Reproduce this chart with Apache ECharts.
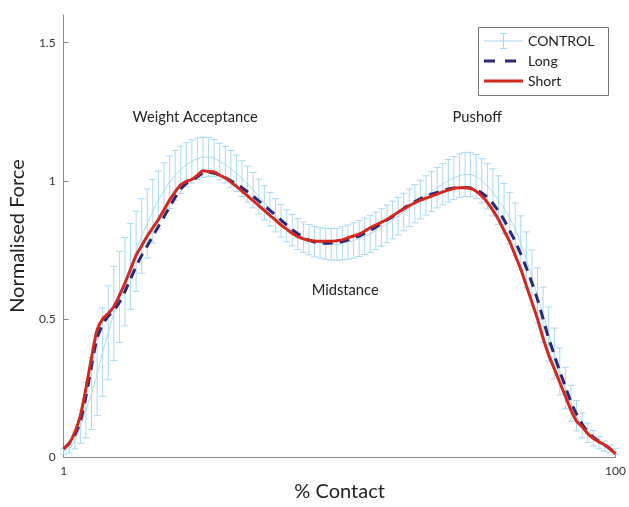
<!DOCTYPE html>
<html>
<head>
<meta charset="utf-8">
<script src="https://cdn.jsdelivr.net/npm/echarts@6/dist/echarts.min.js"></script>
<style>html,body{margin:0;padding:0;background:#fff}#c{width:629px;height:507px}</style>
</head>
<body>
<div id="c"></div>
<script>
// % contact index 1..100
const contact = [];
for (let k = 1; k <= 100; k++) contact.push(k);

const controlMean = [
 0.02,0.03,0.06,0.11,0.17,0.23,0.30,0.38,0.45,0.52,
 0.58,0.635,0.69,0.745,0.80,0.845,0.89,0.93,0.965,0.995,
 1.02,1.04,1.058,1.07,1.08,1.085,1.086,1.082,1.07,1.058,
 1.043,1.027,1.008,0.988,0.966,0.943,0.92,0.897,0.875,0.855,
 0.837,0.821,0.807,0.796,0.787,0.78,0.775,0.772,0.77,0.77,
 0.774,0.778,0.784,0.791,0.799,0.808,0.819,0.831,0.844,0.858,
 0.872,0.887,0.902,0.917,0.932,0.947,0.961,0.975,0.988,1.0,
 1.01,1.018,1.023,1.022,1.015,1.0,0.98,0.958,0.93,0.90,
 0.865,0.825,0.775,0.715,0.65,0.585,0.515,0.445,0.375,0.31,
 0.25,0.195,0.15,0.115,0.088,0.068,0.052,0.04,0.03,0.02];

const controlSD = [
 0.01,0.015,0.03,0.06,0.10,0.13,0.15,0.16,0.17,0.17,
 0.165,0.16,0.155,0.145,0.135,0.125,0.115,0.105,0.10,0.095,
 0.09,0.085,0.08,0.078,0.075,0.073,0.07,0.068,0.066,0.066,
 0.066,0.066,0.065,0.065,0.064,0.063,0.062,0.061,0.06,0.059,
 0.058,0.057,0.056,0.055,0.055,0.055,0.055,0.056,0.057,0.058,
 0.06,0.062,0.064,0.065,0.066,0.067,0.068,0.068,0.068,0.068,
 0.068,0.068,0.068,0.069,0.07,0.071,0.072,0.073,0.075,0.077,
 0.078,0.079,0.08,0.08,0.08,0.08,0.082,0.085,0.088,0.09,
 0.093,0.095,0.098,0.1,0.1,0.1,0.1,0.098,0.092,0.085,
 0.075,0.065,0.055,0.045,0.035,0.028,0.022,0.018,0.014,0.01];

const longForce = [
 0.03,0.05,0.08,0.13,0.22,0.33,0.43,0.48,0.51,0.53,
 0.56,0.60,0.645,0.69,0.73,0.765,0.80,0.835,0.87,0.905,
 0.94,0.97,0.99,1.0,1.015,1.028,1.03,1.028,1.02,1.012,
 1.0,0.988,0.975,0.96,0.944,0.927,0.91,0.893,0.876,0.858,
 0.84,0.823,0.808,0.795,0.785,0.778,0.775,0.774,0.775,0.777,
 0.78,0.786,0.793,0.80,0.81,0.82,0.832,0.845,0.858,0.87,
 0.885,0.90,0.913,0.925,0.935,0.944,0.952,0.958,0.964,0.97,
 0.974,0.976,0.976,0.974,0.968,0.956,0.94,0.918,0.89,0.858,
 0.82,0.78,0.735,0.685,0.63,0.57,0.50,0.43,0.37,0.31,
 0.255,0.2,0.155,0.12,0.092,0.072,0.058,0.045,0.03,0.015];

const shortForce = [
 0.03,0.05,0.09,0.15,0.25,0.36,0.46,0.50,0.52,0.545,
 0.585,0.63,0.68,0.73,0.765,0.80,0.83,0.86,0.895,0.93,
 0.96,0.985,0.998,1.005,1.02,1.036,1.034,1.032,1.02,1.01,
 0.995,0.98,0.963,0.945,0.928,0.91,0.893,0.875,0.858,0.84,
 0.825,0.81,0.798,0.79,0.785,0.782,0.781,0.781,0.781,0.783,
 0.786,0.794,0.80,0.807,0.818,0.83,0.84,0.85,0.86,0.873,
 0.886,0.898,0.91,0.92,0.93,0.937,0.945,0.952,0.96,0.966,
 0.973,0.975,0.975,0.972,0.962,0.945,0.922,0.893,0.86,0.82,
 0.78,0.73,0.68,0.62,0.56,0.50,0.43,0.37,0.32,0.27,
 0.22,0.17,0.13,0.11,0.085,0.068,0.055,0.045,0.03,0.012];

const xTicks = [1, 100];
const yTicks = [0, 0.5, 1, 1.5];
const phaseLabels = [
  {text: 'Weight Acceptance', x: 24.6, y: 1.23},
  {text: 'Pushoff', x: 75.2, y: 1.23},
  {text: 'Midstance', x: 51.5, y: 0.605}
];

const CTRL = '#a9d9f2';
const LONG = '#2a2878';
const SHORT = '#d4271d';
const AX = '#8a8a8a';
const FONT = 'Lato';

const errData = contact.map((c, k) => [c, controlMean[k] - controlSD[k], controlMean[k] + controlSD[k]]);

const chart = echarts.init(document.getElementById('c'), null, {renderer: 'canvas'});

const option = {
  animation: false,
  backgroundColor: '#fff',
  textStyle: {fontFamily: FONT},
  grid: {left: 56, right: 7, top: 15, bottom: 46, containLabel: false},
  xAxis: {
    type: 'value', min: 1, max: 100,
    name: '% Contact', nameLocation: 'middle', nameGap: 23,
    nameTextStyle: {fontSize: 20, color: '#222', fontFamily: FONT},
    axisLine: {show: true, lineStyle: {color: AX, width: 1}},
    axisTick: {show: true, inside: true, length: 5, lineStyle: {color: AX}, customValues: xTicks},
    axisLabel: {color: '#333', fontSize: 12, margin: 8, customValues: xTicks, fontFamily: FONT},
    splitLine: {show: false}
  },
  yAxis: {
    type: 'value', min: 0, max: 1.6,
    name: 'Normalised Force', nameLocation: 'middle', nameGap: 28, nameRotate: 90,
    nameTextStyle: {fontSize: 20, color: '#222', fontFamily: FONT},
    axisLine: {show: true, lineStyle: {color: AX, width: 1}},
    axisTick: {show: true, inside: true, length: 5, lineStyle: {color: AX}, customValues: yTicks},
    axisLabel: {color: '#333', fontSize: 12, margin: 8, customValues: yTicks, fontFamily: FONT},
    splitLine: {show: false}
  },
  series: [
    {
      name: 'CONTROL',
      type: 'custom',
      data: errData,
      clip: false,
      z: 1,
      renderItem: function (params, api) {
        const x = api.value(0);
        const lo = api.coord([x, api.value(1)]);
        const hi = api.coord([x, api.value(2)]);
        const hw = 3.5;
        const st = {stroke: CTRL, lineWidth: 1, fill: null};
        return {
          type: 'group',
          children: [
            {type: 'line', shape: {x1: lo[0], y1: lo[1], x2: hi[0], y2: hi[1]}, style: st},
            {type: 'line', shape: {x1: lo[0] - hw, y1: lo[1], x2: lo[0] + hw, y2: lo[1]}, style: st},
            {type: 'line', shape: {x1: hi[0] - hw, y1: hi[1], x2: hi[0] + hw, y2: hi[1]}, style: st}
          ]
        };
      }
    },
    {
      name: 'CONTROL mean',
      type: 'line',
      data: contact.map((c, k) => [c, controlMean[k]]),
      showSymbol: false,
      smooth: 0.3,
      z: 2,
      lineStyle: {color: CTRL, width: 1}
    },
    {
      name: 'Long',
      type: 'line',
      data: contact.map((c, k) => [c, longForce[k]]),
      showSymbol: false,
      smooth: 0.3,
      z: 3,
      lineStyle: {color: LONG, width: 3, type: [10, 7]}
    },
    {
      name: 'Short',
      type: 'line',
      data: contact.map((c, k) => [c, shortForce[k]]),
      showSymbol: false,
      smooth: 0.3,
      z: 4,
      lineStyle: {color: SHORT, width: 3}
    }
  ]
};
chart.setOption(option);

// phase annotations positioned in data coordinates
const texts = phaseLabels.map(p => {
  const px = chart.convertToPixel({gridIndex: 0}, [p.x, p.y]);
  return {
    type: 'text', x: px[0], y: px[1],
    style: {text: p.text, font: '14.7px ' + FONT, fill: '#222', align: 'center', verticalAlign: 'middle'}
  };
});

// legend drawn as a box
const lg = {x: 478, y: 27, w: 130, h: 68};
const legendEls = [
  {type: 'rect', shape: {x: lg.x + 0.5, y: lg.y + 0.5, width: lg.w, height: lg.h}, style: {fill: '#fff', stroke: '#777', lineWidth: 1}},
  // CONTROL icon
  {type: 'line', shape: {x1: 484, y1: 41, x2: 523, y2: 41}, style: {stroke: CTRL, lineWidth: 1}},
  {type: 'line', shape: {x1: 503.5, y1: 33, x2: 503.5, y2: 49}, style: {stroke: CTRL, lineWidth: 1}},
  {type: 'line', shape: {x1: 500, y1: 33.5, x2: 507, y2: 33.5}, style: {stroke: CTRL, lineWidth: 1}},
  {type: 'line', shape: {x1: 500, y1: 48.5, x2: 507, y2: 48.5}, style: {stroke: CTRL, lineWidth: 1}},
  {type: 'text', x: 528, y: 41, style: {text: 'CONTROL', font: '14px ' + FONT, fill: '#222', verticalAlign: 'middle'}},
  // Long icon
  {type: 'line', shape: {x1: 484, y1: 61, x2: 523, y2: 61}, style: {stroke: LONG, lineWidth: 3, lineDash: [11, 10]}},
  {type: 'text', x: 528, y: 61, style: {text: 'Long', font: '14px ' + FONT, fill: '#222', verticalAlign: 'middle'}},
  // Short icon
  {type: 'line', shape: {x1: 484, y1: 81, x2: 523, y2: 81}, style: {stroke: SHORT, lineWidth: 3}},
  {type: 'text', x: 528, y: 81, style: {text: 'Short', font: '14px ' + FONT, fill: '#222', verticalAlign: 'middle'}}
];

chart.setOption({graphic: {elements: texts.concat(legendEls)}});
</script>
</body>
</html>
